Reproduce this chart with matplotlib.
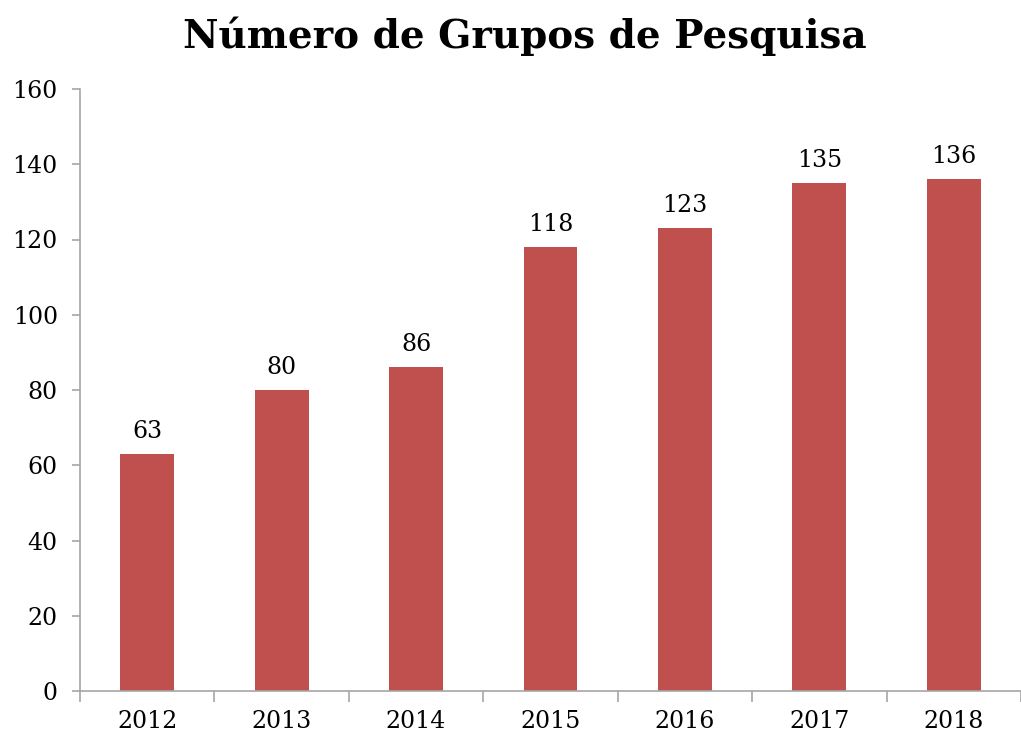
import matplotlib.pyplot as plt

anos = ['2012', '2013', '2014', '2015', '2016', '2017', '2018']
grupos = [63, 80, 86, 118, 123, 135, 136]
yticks = [0, 20, 40, 60, 80, 100, 120, 140, 160]

plt.rcParams['font.family'] = ['DejaVu Serif']
cor = '#C0504D'
cinza = '#A6A6A6'

fig = plt.figure(figsize=(10.21, 7.35), dpi=100)
ax = fig.add_axes([80 / 1021, 44 / 735, 941 / 1021, 602 / 735])

x = list(range(len(anos)))
barras = ax.bar(x, grupos, width=0.40, color=cor)
for xi, v in zip(x, grupos):
    ax.text(xi, v + 3, str(v), ha='center', va='bottom', fontsize=17)

ax.set_xlim(-0.5, -0.5 + 941 / 136)
ax.set_ylim(0, 160)
ax.set_yticks(yticks)
ax.set_xticks(x)
ax.set_xticklabels(anos, fontsize=17)
ax.tick_params(axis='x', length=0, pad=14)
ax.tick_params(axis='y', labelsize=17, length=6, color=cinza, width=1.2, pad=10)
ax.set_xticks([i + 0.5 for i in range(-1, len(anos))], minor=True)
ax.tick_params(axis='x', which='minor', length=8, color=cinza, width=1.2)

for s in ['top', 'right']:
    ax.spines[s].set_visible(False)
for s in ['left', 'bottom']:
    ax.spines[s].set_color(cinza)
    ax.spines[s].set_linewidth(1.2)

fig.text(0.514, 0.95, 'Número de Grupos de Pesquisa', ha='center', va='center',
         fontsize=28, fontweight='bold')

fig.savefig('out.png', dpi=100)
